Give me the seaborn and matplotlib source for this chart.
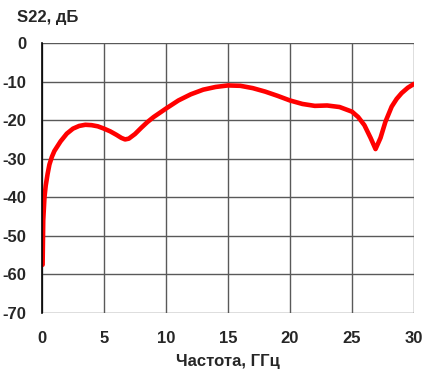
import numpy as np
import pandas as pd
import matplotlib
matplotlib.use("Agg")
import matplotlib.pyplot as plt
import seaborn as sns

# S22 vs frequency
freq_ghz = [0.05, 0.1, 0.2, 0.3, 0.45, 0.6, 0.8, 1.0, 1.5, 2.0, 2.5, 3.0, 3.5, 4.0, 4.5,
            5.0, 5.5, 6.0, 6.4, 6.7, 7.0, 7.5, 8.0, 8.5, 9.0, 10.0, 11.0, 12.0, 13.0,
            14.0, 15.0, 16.0, 17.0, 18.0, 19.0, 20.0, 21.0, 22.0, 23.0, 24.0, 25.0,
            25.5, 26.0, 26.5, 26.9, 27.3, 27.7, 28.2, 28.6, 29.0, 29.5, 30.0]
s22_db = [-57.5, -46, -40, -37, -34, -31.5, -29.5, -28, -25.5, -23.5, -22.2, -21.5,
          -21.2, -21.3, -21.6, -22.2, -22.9, -23.8, -24.6, -25.0, -24.8, -23.6, -22.0,
          -20.5, -19.2, -17.0, -14.9, -13.3, -12.1, -11.4, -11.0, -11.1, -11.7, -12.6,
          -13.7, -14.9, -15.8, -16.3, -16.2, -16.6, -17.8, -19.2, -21.3, -24.6, -27.5,
          -24.6, -20.4, -16.5, -14.5, -13.0, -11.6, -10.6]

x_ticks = [0, 5, 10, 15, 20, 25, 30]
y_ticks = [0, -10, -20, -30, -40, -50, -60, -70]

df = pd.DataFrame({"freq": freq_ghz, "s22": s22_db})

sns.set_style("white")
plt.rcParams['font.family'] = ['Liberation Sans', 'DejaVu Sans']

fig = plt.figure(figsize=(4.36, 3.73), dpi=100)
ax = fig.add_axes([0.0963, 0.1609, 0.8532, 0.7238])

sns.lineplot(data=df, x="freq", y="s22", ax=ax, color="#ff0000", linewidth=3.3,
             solid_capstyle="round", solid_joinstyle="round")

ax.set_xlim(0, 30)
ax.set_ylim(-70, 0)
ax.set_xticks(x_ticks)
ax.set_yticks(y_ticks)
ax.set_xticklabels([str(t) for t in x_ticks], fontsize=12, fontweight="bold")
ax.set_yticklabels([str(t) for t in y_ticks], fontsize=12, fontweight="bold")
ax.grid(True, color="#595959", linewidth=1.0)
ax.set_axisbelow(True)
for side in ["top", "right", "bottom"]:
    ax.spines[side].set_visible(False)
ax.spines["left"].set_color("black")
ax.spines["left"].set_linewidth(1.2)
ax.tick_params(axis="y", length=0, pad=11)
ax.tick_params(axis="x", length=0, pad=13)

ax.set_xlabel("Частота, ГГц", fontsize=12, fontweight="bold", labelpad=6)
ax.set_ylabel("")
fig.text(0.039, 0.952, "S22, дБ", fontsize=12, fontweight="bold", va="center", ha="left")

fig.savefig("out.png", dpi=100, facecolor="white")
